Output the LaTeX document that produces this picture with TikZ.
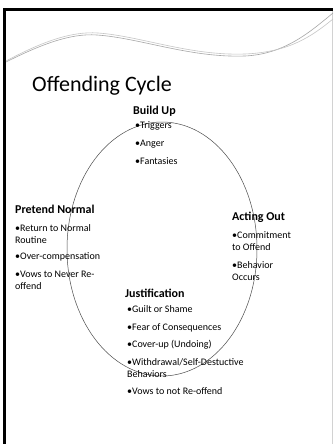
\documentclass[tikz,border=0pt]{standalone}
\usepackage{fontspec}
\setmainfont{Carlito}
\begin{document}
\begin{tikzpicture}[x=1pt,y=-1pt,
  txt/.style={anchor=base west,inner sep=0pt,font=\fontsize{10}{12}\selectfont},
  hdr/.style={anchor=base west,inner sep=0pt,font=\fontsize{12}{14}\selectfont\bfseries},
  wave/.style={line width=0.6pt}]
\useasboundingbox (0,0) rectangle (333,444);
\fill[white] (0,0) rectangle (333,444);
% frame
\fill[black] (3,8.5) rectangle (333,11);
\fill[black] (3,8.5) rectangle (6,444);
\draw[gray!35,line width=1pt] (332,11) -- (332,444);
% wave
\draw[wave,gray!70] (6,62) .. controls (40,45) and (70,33) .. (97,35)
  .. controls (140,38) and (190,58) .. (245,56)
  .. controls (285,54) and (310,32) .. (333,13);
\draw[wave,gray!45] (6,61) .. controls (40,43) and (70,31) .. (98,33)
  .. controls (140,36) and (190,56) .. (245,54)
  .. controls (290,52) and (312,36) .. (333,19);
% cycle ellipse
\draw[black!70,line width=0.5pt] (162,249) ellipse [x radius=95, y radius=127];
% title
\node[anchor=base west,inner sep=0pt,font=\fontsize{22}{26}\selectfont] (title) at (32,91) {Offending Cycle};
% Build Up
\node[hdr] (bu) at (133,114) {Build Up};
\node[txt] (bu1) at (135,128) {•Triggers};
\node[txt] (bu2) at (135,146) {•Anger};
\node[txt] (bu3) at (135,164) {•Fantasies};
% Pretend Normal
\node[hdr] (pn) at (15,213) {Pretend Normal};
\node[txt] (pn1) at (15,231) {•Return to Normal};
\node[txt] (pn1b) at (15,243) {Routine};
\node[txt] (pn2) at (15,259) {•Over-compensation};
\node[txt] (pn3) at (15,277) {•Vows to Never Re-};
\node[txt] (pn3b) at (15,289) {offend};
% Acting Out
\node[hdr] (ao) at (232,220) {Acting Out};
\node[txt] (ao1) at (232,238) {•Commitment};
\node[txt] (ao1b) at (232,250) {to Offend};
\node[txt] (ao2) at (232,268) {•Behavior};
\node[txt] (ao2b) at (232,280) {Occurs};
% Justification
\node[hdr] (ju) at (125,297) {Justification};
\node[txt] (ju1) at (127,312) {•Guilt or Shame};
\node[txt] (ju2) at (127,330) {•Fear of Consequences};
\node[txt] (ju3) at (127,347) {•Cover-up (Undoing)};
\node[txt] (ju4) at (127,365) {•Withdrawal/Self-Destuctive};
\node[txt] (ju4b) at (127,377) {Behaviors};
\node[txt] (ju5) at (127,394) {•Vows to not Re-offend};
\end{tikzpicture}
\end{document}
